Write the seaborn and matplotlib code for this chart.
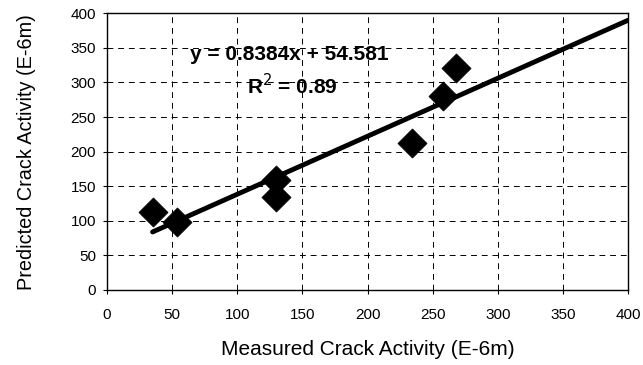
import numpy as np
import pandas as pd
import matplotlib
matplotlib.use("Agg")
import matplotlib.pyplot as plt
import seaborn as sns

# Data
measured = [35, 54, 130, 130, 234, 258, 268]
predicted = [113, 98, 159, 135, 212, 281, 321]
slope = 0.8384
intercept = 54.581
r2 = 0.89
x_ticks = [0, 50, 100, 150, 200, 250, 300, 350, 400]
y_ticks = [0, 50, 100, 150, 200, 250, 300, 350, 400]

sns.set_theme(style="white")
plt.rcParams['font.family'] = ['Liberation Sans', 'DejaVu Sans']

fig = plt.figure(figsize=(6.43, 3.65), dpi=100)
ax = fig.add_axes([0.1664, 0.2055, 0.8103, 0.758])

df = pd.DataFrame({"x": measured, "y": predicted})
line_x = np.array([min(measured), 400])
line_df = pd.DataFrame({"x": line_x, "y": slope * line_x + intercept})

sns.lineplot(data=line_df, x="x", y="y", ax=ax, color="black", linewidth=3.5, zorder=3)
sns.scatterplot(data=df, x="x", y="y", ax=ax, marker="D", s=220, color="black",
                edgecolor="black", linewidth=0.5, zorder=4)

ax.set_xlim(0, 400)
ax.set_ylim(0, 400)
ax.set_xticks(x_ticks)
ax.set_yticks(y_ticks)
ax.tick_params(axis="both", labelsize=11, colors="black", length=3, width=0.8,
               direction="out", bottom=True, left=True)
ax.tick_params(axis="y", pad=5)
ax.tick_params(axis="x", pad=10)
ax.grid(True, linestyle=(0, (6, 5)), color="black", linewidth=0.7)
for sp in ax.spines.values():
    sp.set_visible(True)
    sp.set_color("black")
    sp.set_linewidth(1.0)

ax.set_xlabel("Measured Crack Activity (E-6m)", fontsize=15, labelpad=13, color="black")
ax.set_ylabel("Predicted Crack Activity (E-6m)", fontsize=14.3, labelpad=25, color="black")

ax.text(0.35, 0.85, f"y = {slope}x + {intercept}", transform=ax.transAxes,
        ha="center", va="center", fontsize=15, fontweight="bold", color="black")
ax.text(0.356, 0.738, f"R$^2$ = {r2}", transform=ax.transAxes,
        ha="center", va="center", fontsize=15, fontweight="bold", color="black")

fig.savefig("out.png", dpi=100)
